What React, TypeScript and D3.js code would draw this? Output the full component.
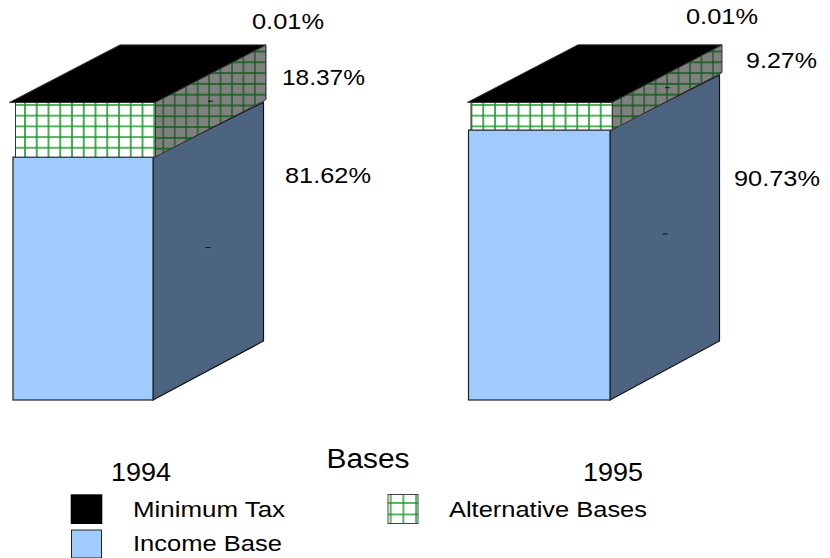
import React from "react";
import * as d3 from "d3";

// Share of tax revenue by base, in percent
const years = ["1994", "1995"];
const incomeBase = [81.62, 90.73];
const alternativeBases = [18.37, 9.27];
const minimumTax = [0.01, 0.01];
const incomeLabels = ["81.62%", "90.73%"];
const alternativeLabels = ["18.37%", "9.27%"];
const minimumLabels = ["0.01%", "0.01%"];

const W = 830;
const H = 558;
const FONT = "'Liberation Sans', Arial, sans-serif";

const y = d3.scaleLinear().domain([0, 100]).range([400, 102.4]);
const x = d3.scalePoint<string>().domain(years).range([13, 468.5]);

// Per-block drawing offsets of the extruded boxes
const boxWidth = [140, 141.5];
const depthX = [110.5, 109.5];
const lidOverhang = [3.5, 1];
const lidBack = [107, 109.5];
const DY_BOTTOM = -59;
const DY_INCOME_TOP = -55;
const DY_ALT = -57.5;

const line = d3.line<[number, number]>();

const labelPos = [
  { min: [252, 29], alt: [282, 85], inc: [285, 183], year: [111, 481] },
  { min: [686, 24], alt: [746, 68], inc: [734, 186], year: [583, 481] },
];

// Horizontally widened text, as the export stretches its glyphs
const Label = ({ x, y, size, len, children }: { x: number; y: number; size: number; len: number; children: string }) => (
  <text x={x} y={y} fontSize={size} textLength={len} lengthAdjust="spacingAndGlyphs" fill="#000">
    {children}
  </text>
);

export default function App() {
  return (
    <svg
      width={W}
      height={H}
      viewBox={`0 0 ${W} ${H}`}
      style={{ position: "absolute", left: 0, top: 0, background: "#fff", fontFamily: FONT }}
    >
      <defs>
        <pattern id="gridFront" width={11.75} height={10.7} patternUnits="userSpaceOnUse" x={24} y={104}>
          <rect width={11.75} height={10.7} fill="#fff" />
          <path d="M1 0V10.7M0 1H11.75" stroke="#1a9a28" strokeWidth={1.6} fill="none" />
        </pattern>
        <pattern id="gridSide" width={11.45} height={10.8} patternUnits="userSpaceOnUse" x={162.3} y={61.3}>
          <rect width={11.45} height={10.8} fill="#808080" />
          <path d="M1 0V10.8M0 1H11.45" stroke="#0d5c14" strokeWidth={1.3} fill="none" />
        </pattern>
        <pattern id="gridLegend" width={12.7} height={11.5} patternUnits="userSpaceOnUse" x={389.7} y={490.5}>
          <rect width={12.7} height={11.5} fill="#fff" />
          <path d="M1 0V11.5M0 1H12.7" stroke="#1a9a28" strokeWidth={1.4} fill="none" />
        </pattern>
      </defs>

      {years.map((yr, i) => {
        const x0 = x(yr)!;
        const x1 = x0 + boxWidth[i];
        const dx = depthX[i];
        const y0 = y(0);
        const yInc = y(incomeBase[i]);
        const yAlt = y(incomeBase[i] + alternativeBases[i]);
        const yTop = y(incomeBase[i] + alternativeBases[i] + minimumTax[i]);
        const pos = labelPos[i];
        const midDepth = x1 + 55;
        return (
          <g key={yr}>
            {/* income segment */}
            <path
              d={line([[x1, y0], [x1 + dx, y0 + DY_BOTTOM], [x1 + dx, yInc + DY_INCOME_TOP], [x1, yInc]]) + "Z"}
              fill="#4d6480"
              stroke="#111"
              strokeWidth={1.2}
            />
            <rect x={x0} y={yInc} width={boxWidth[i]} height={y0 - yInc} fill="#9fcbff" stroke="#222" strokeWidth={1.2} />

            {/* alternative bases segment, set slightly inward */}
            <path
              d={line([[x1 + 2, yInc], [x1 + dx + 2.5, yInc + DY_ALT], [x1 + dx + 2.5, yAlt + DY_ALT], [x1 + 2, yAlt]]) + "Z"}
              fill="url(#gridSide)"
              stroke="#333"
              strokeWidth={1}
            />
            <rect x={x0 + 2.5} y={yAlt} width={boxWidth[i]} height={yInc - yAlt} fill="url(#gridFront)" stroke="#333" strokeWidth={1} />

            {/* minimum tax lid */}
            <path
              d={line([[x0 - lidOverhang[i], yTop], [x1 + 2, yTop], [x1 + dx + 2.5, yTop + DY_ALT], [x0 + lidBack[i], yTop + DY_ALT]]) + "Z"}
              fill="#000"
              stroke="#333"
              strokeWidth={1}
            />

            {/* centre ticks on the side faces */}
            <line x1={midDepth - 2.5} x2={midDepth + 2.5} y1={(y0 + yInc) / 2 - 31} y2={(y0 + yInc) / 2 - 31} stroke="#111" />
            <line x1={midDepth} x2={midDepth + 5} y1={(yInc + yAlt) / 2 - 28.5} y2={(yInc + yAlt) / 2 - 28.5} stroke="#111" />

            <Label x={pos.min[0]} y={pos.min[1]} size={22} len={72}>{minimumLabels[i]}</Label>
            <Label x={pos.alt[0]} y={pos.alt[1]} size={22} len={i === 0 ? 83 : 71}>{alternativeLabels[i]}</Label>
            <Label x={pos.inc[0]} y={pos.inc[1]} size={22} len={86}>{incomeLabels[i]}</Label>
            <Label x={pos.year[0]} y={pos.year[1]} size={26} len={60}>{yr}</Label>
          </g>
        );
      })}

      <Label x={326.5} y={468} size={27} len={83}>Bases</Label>

      <rect x={70.7} y={494.3} width={31.6} height={29.7} fill="#000" />
      <Label x={133} y={517} size={22} len={152}>Minimum Tax</Label>
      <rect x={71.5} y={530} width={30} height={28} fill="#9fcbff" stroke="#222" />
      <Label x={133} y={551} size={22} len={149}>Income Base</Label>
      <rect x={388} y={494.5} width={30} height={29} fill="url(#gridLegend)" stroke="#444" />
      <Label x={449} y={517} size={22} len={198}>Alternative Bases</Label>
    </svg>
  );
}
